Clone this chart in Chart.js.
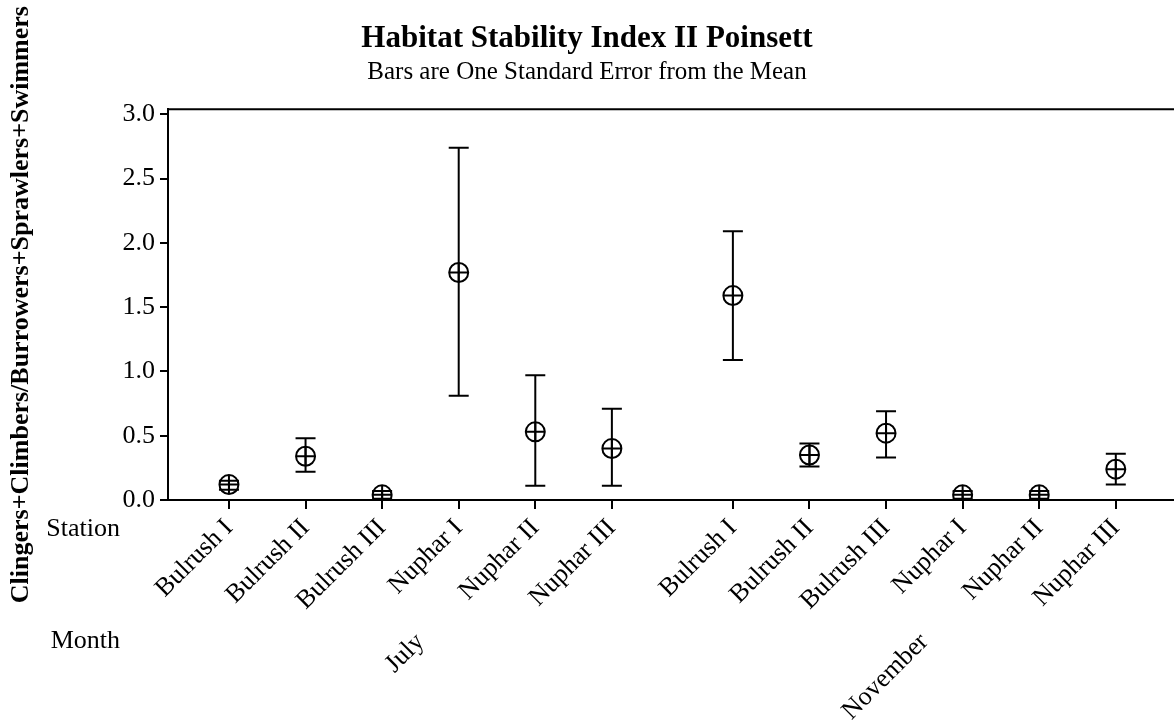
<!DOCTYPE html>
<html>
<head>
<meta charset="utf-8">
<script src="https://cdn.jsdelivr.net/npm/chart.js@4/dist/chart.umd.min.js"></script>
<style>
  body { margin: 0; background: #fff; }
  #wrap { width: 1174px; height: 721px; }
</style>
</head>
<body>
<div id="wrap"><canvas id="hsiChart" width="1174" height="721"></canvas></div>
<script>
let stations = ["Bulrush I", "Bulrush II", "Bulrush III", "Nuphar I", "Nuphar II", "Nuphar III"];
let months = ["July", "November"];

let meanJuly = [0.12, 0.34, 0.04, 1.77, 0.53, 0.40];
let lowJuly  = [0.08, 0.22, 0.01, 0.81, 0.11, 0.11];
let highJuly = [0.15, 0.48, 0.07, 2.74, 0.97, 0.71];

let meanNov = [1.59, 0.35, 0.52, 0.04, 0.04, 0.24];
let lowNov  = [1.09, 0.26, 0.33, 0.01, 0.01, 0.12];
let highNov = [2.09, 0.44, 0.69, 0.07, 0.07, 0.36];

let yTicks = [0.0, 0.5, 1.0, 1.5, 2.0, 2.5, 3.0];

let groupGap = 0.58;   // extra space between the two months
let serif = "'Liberation Serif', 'Times New Roman', serif";

// build points: x = station slot, shifted for the second month
let points = [];
let tickPos = [];
let tickText = [];
let monthCenter = [];
[[meanJuly, lowJuly, highJuly], [meanNov, lowNov, highNov]].forEach((m, g) => {
    let xs = [];
    stations.forEach((s, i) => {
        let x = i + 1 + g * (stations.length + groupGap);
        points.push({x: x, y: m[0][i], lo: m[1][i], hi: m[2][i]});
        tickPos.push(x);
        tickText.push(s);
        xs.push(x);
    });
    monthCenter.push((xs[0] + xs[xs.length - 1]) / 2);
});

const errorBars = {
    id: "errorBars",
    beforeDatasetsDraw(chart) {
        const ctx = chart.ctx, xs = chart.scales.x, ys = chart.scales.y;
        ctx.save();
        ctx.strokeStyle = "#000";
        ctx.lineWidth = 2;
        points.forEach(p => {
            let px = xs.getPixelForValue(p.x);
            let top = ys.getPixelForValue(p.hi);
            let bot = ys.getPixelForValue(p.lo);
            ctx.beginPath();
            ctx.moveTo(px, top); ctx.lineTo(px, bot);
            ctx.moveTo(px - 10, top); ctx.lineTo(px + 10, top);
            ctx.moveTo(px - 10, bot); ctx.lineTo(px + 10, bot);
            ctx.stroke();
        });
        ctx.restore();
    }
};

const extras = {
    id: "extras",
    afterDraw(chart) {
        const ctx = chart.ctx, a = chart.chartArea, xs = chart.scales.x;
        ctx.save();
        // top frame line
        ctx.strokeStyle = "#000";
        ctx.lineWidth = 2;
        ctx.beginPath();
        ctx.moveTo(a.left - 1, a.top); ctx.lineTo(a.right, a.top);
        ctx.stroke();

        ctx.fillStyle = "#000";
        ctx.font = "26px " + serif;
        ctx.textAlign = "right";
        ctx.textBaseline = "top";
        ctx.fillText("Station", 120, 516);
        ctx.fillText("Month", 120, 628);

        months.forEach((m, g) => {
            ctx.save();
            ctx.translate(xs.getPixelForValue(monthCenter[g]), 638);
            ctx.rotate(-Math.PI / 4);
            ctx.textAlign = "right";
            ctx.textBaseline = "middle";
            ctx.fillText(m, 0, 0);
            ctx.restore();
        });
        ctx.restore();
    }
};

new Chart("hsiChart", {
    type: "scatter",
    data: {
        datasets: [{
            data: points,
            pointStyle: "circle",
            radius: 9.5,
            borderWidth: 2,
            borderColor: "#000",
            backgroundColor: "rgba(0,0,0,0)"
        }, {
            data: points,
            pointStyle: "cross",
            radius: 9.5,
            borderWidth: 2,
            borderColor: "#000"
        }]
    },
    options: {
        responsive: false,
        animation: false,
        layout: {padding: 0, autoPadding: false},
        plugins: {
            legend: {display: false},
            tooltip: {enabled: false},
            title: {
                display: true,
                text: "Habitat Stability Index II Poinsett",
                color: "#000",
                font: {family: serif, size: 31, weight: "bold"},
                padding: {top: 20, bottom: 0}
            },
            subtitle: {
                display: true,
                text: "Bars are One Standard Error from the Mean",
                color: "#000",
                font: {family: serif, size: 25},
                padding: {top: 0, bottom: 22}
            }
        },
        scales: {
            x: {
                type: "linear",
                min: 0.204,
                max: 13.34,
                afterBuildTicks: s => { s.ticks = tickPos.map(v => ({value: v})); },
                afterFit: s => { s.height = 221; s.paddingLeft = 0; s.paddingRight = 0; },
                ticks: {
                    autoSkip: false,
                    minRotation: 45,
                    maxRotation: 45,
                    color: "#000",
                    padding: 4,
                    font: {family: serif, size: 26},
                    callback: (v) => tickText[tickPos.indexOf(v)]
                },
                grid: {drawOnChartArea: false, tickLength: 9, color: "#000", lineWidth: 2},
                border: {display: true, color: "#000", width: 2}
            },
            y: {
                min: 0,
                max: 3.04,
                afterBuildTicks: s => { s.ticks = yTicks.map(v => ({value: v})); },
                afterFit: s => { s.width = 168; },
                ticks: {
                    color: "#000",
                    padding: 5,
                    font: {family: serif, size: 26},
                    callback: v => v.toFixed(1)
                },
                grid: {drawOnChartArea: false, tickLength: 8, color: "#000", lineWidth: 2},
                border: {display: true, color: "#000", width: 2},
                title: {
                    display: true,
                    text: "Clingers+Climbers/Burrowers+Sprawlers+Swimmers",
                    color: "#000",
                    font: {family: serif, size: 26, weight: "bold"},
                    padding: {top: 6, bottom: 0}
                }
            }
        }
    },
    plugins: [errorBars, extras]
});
</script>
</body>
</html>
